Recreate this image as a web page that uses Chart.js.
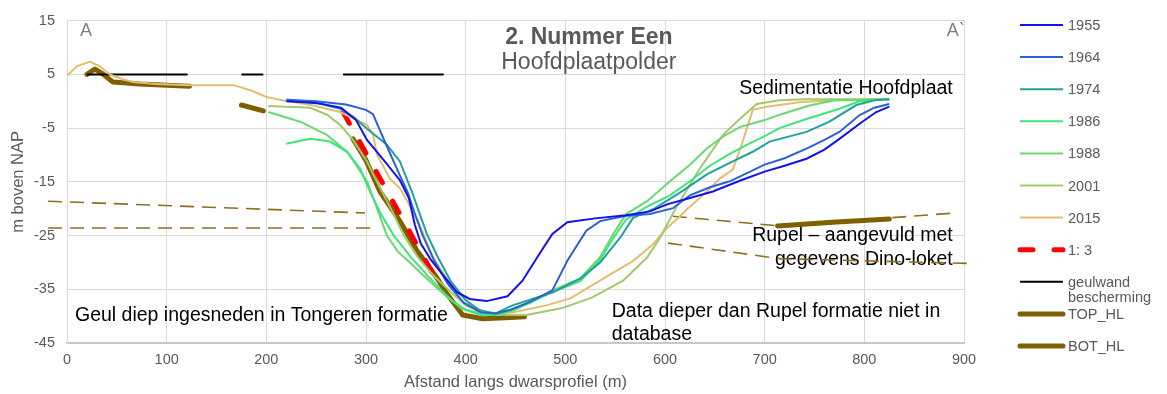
<!DOCTYPE html>
<html>
<head>
<meta charset="utf-8">
<script src="https://cdn.jsdelivr.net/npm/chart.js@4.4.1/dist/chart.umd.min.js"></script>
<style>
  body { margin: 0; background: #fff; }
  #wrap { width: 1167px; height: 394px; }
</style>
</head>
<body>
<div id="wrap"><canvas id="profielChart"></canvas></div>
<script>
// Dwarsprofielen per jaar: [afstand (m), hoogte (m NAP)]
const jaren = ['1955', '1964', '1974', '1986', '1988', '2001', '2015'];
const kleuren = ['#1212EE', '#2A62D4', '#23A0A0', '#3DE57A', '#69D970', '#A3C96A', '#E3BD72'];

const p1955 = [[220,0],[250,-0.3],[275,-1.2],[290,-3.5],[301,-7.2],[318,-11],[334,-14.7],[343,-18],[349,-23],[355,-26.5],[365,-29.5],[378,-32.5],[391,-35.5],[404,-36.8],[421,-37.2],[442,-36.3],[457,-33.4],[472,-29],[487,-24.7],[502,-22.5],[530,-21.8],[561,-21.2],[585,-20.5],[602,-19.2],[625,-18],[648,-16.8],[675,-14.8],[700,-13.1],[720,-12],[742,-10.7],[760,-9],[775,-7],[798,-3.8],[812,-2],[825,-1]];
const p1964 = [[220,0.3],[250,0],[280,-0.6],[300,-1.6],[307,-2.4],[320,-8],[334,-13.8],[342,-17],[350,-21.5],[357,-25],[368,-29.5],[382,-34],[398,-37.5],[415,-39.3],[430,-39.5],[445,-38.8],[465,-37.3],[487,-35.2],[502,-29.7],[521,-24.1],[535,-22.3],[561,-21.3],[585,-21],[608,-19.9],[625,-17.5],[645,-16],[665,-14.9],[700,-11.8],[720,-10.6],[742,-8.8],[760,-7.2],[775,-5.7],[795,-2.6],[810,-1.2],[825,-0.5]];
const p1974 = [[234,0],[255,-0.5],[274,-1.4],[288,-3],[301,-5.1],[321,-8.1],[334,-11.2],[346,-16.8],[353,-20.5],[361,-24.7],[372,-29],[385,-33.5],[400,-37],[414,-38.9],[430,-39.5],[447,-38],[467,-36.8],[487,-35.6],[515,-33],[535,-30],[555,-25.4],[568,-21.7],[588,-20.1],[615,-17],[642,-13.6],[668,-11.2],[688,-9.4],[705,-7.5],[742,-5.7],[765,-3.8],[792,-0.7],[810,0.2],[825,0.4]];
const p1986 = [[220,-7.9],[244,-7],[264,-7.5],[281,-9.4],[294,-12.5],[304,-16.8],[315,-21],[328,-25],[345,-29],[362,-32.5],[380,-36],[395,-38.5],[415,-39.8],[430,-39.8],[447,-39],[467,-37.3],[487,-35.5],[515,-33.5],[535,-29.5],[548,-25.5],[561,-22],[582,-19.6],[605,-17.5],[625,-14.9],[645,-12],[665,-9.8],[682,-8.1],[700,-6.5],[715,-5],[742,-3.3],[775,-1.4],[795,0],[825,0.4]];
const p1988 = [[202,-2],[234,-3.8],[261,-6.3],[281,-9.4],[301,-14.9],[311,-19.9],[321,-25],[332,-28],[344,-30],[358,-32.5],[371,-34.7],[385,-37],[400,-38.8],[420,-39.6],[440,-39.3],[465,-37.5],[487,-35.2],[515,-33],[535,-29],[548,-24.7],[561,-21],[582,-18.6],[605,-14.9],[625,-11.8],[642,-8.8],[658,-6.6],[675,-4.8],[700,-3.5],[715,-2.5],[745,-0.8],[770,0.2],[825,0.4]];
const p2001 = [[202,-0.9],[244,-1.2],[261,-2.5],[274,-4.4],[287,-7.2],[301,-11.2],[311,-15],[325,-20],[338,-25],[352,-29],[368,-32.5],[385,-35.5],[400,-38],[420,-39.5],[440,-39.8],[461,-39.8],[497,-38.5],[527,-36.5],[558,-33.4],[582,-29.1],[595,-25.4],[612,-19.5],[635,-12.5],[658,-6.3],[675,-3.3],[692,-0.5],[715,0.2],[740,0.4],[825,0.4]];
const p2015 = [[0,4.8],[10,6.5],[23,7.4],[33,6.5],[43,5],[56,4.1],[66,3.6],[90,3.2],[123,3],[167,3],[185,2],[200,0.8],[220,0.05],[245,-0.7],[274,-2],[301,-4.4],[307,-6.2],[311,-9.9],[324,-14.4],[334,-16.2],[351,-21.7],[367,-29],[387,-34.7],[407,-38.3],[424,-39.5],[447,-39.3],[481,-38],[505,-36.7],[538,-33],[568,-29.7],[588,-26.6],[602,-23.6],[615,-21.4],[622,-20.1],[642,-16.8],[655,-14.4],[668,-12.7],[678,-7.5],[688,-1.6],[702,-1],[735,-0.2],[768,0.2],[825,0.3]];
const profielen = [p1955, p1964, p1974, p1986, p1988, p2001, p2015];

// Hulplijnen
const helling13 = [[277,-2],[371,-33.4]];
const geulwand = [[20,5],[121,5],[148,null],[175,5],[197,5],[237,null],[277,5],[378,5]];
const topHL = [[20,5],[28,6],[35,5.2],[46,3.6],[73,3.2],[100,3],[123,2.8],[150,null],[175,-0.7],[197,-1.8]];
const botHL = [[287,-7],[300,-11],[314,-16.8],[334,-22.3],[351,-27.8],[371,-32.8],[381,-35.8],[397,-39.8],[417,-40.5],[440,-40.3],[459,-40.1],[600,null],[713,-23.2],[768,-22.5],[825,-21.9]];
const rupelLijnen = [
  [[-19,-18.6],[299,-20.8]],
  [[-19,-23.6],[307,-23.6]],
  [[608,-21.4],[715,-23.2],[891,-20.8]],
  [[603,-26.4],[715,-29.3],[906,-30.2]]
];

const xTicks = [0, 100, 200, 300, 400, 500, 600, 700, 800, 900];
const yTicks = [-45, -35, -25, -15, -5, 5, 15];

const FONT = "'Liberation Sans', Arial, sans-serif";
const GRIJS = '#595959';

const naarPunten = arr => arr.map(p => ({x: p[0], y: p[1]}));

const datasets = [];
jaren.forEach((jaar, i) => {
    datasets.push({
        label: jaar,
        data: naarPunten(profielen[i]),
        borderColor: kleuren[i],
        borderWidth: 2
    });
});
datasets.push({
    label: '1: 3',
    data: naarPunten(helling13),
    borderColor: '#FF0000',
    borderWidth: 5,
    borderDash: [13, 21],
    borderCapStyle: 'round'
});
datasets.push({
    label: ['geulwand', 'bescherming'],
    data: naarPunten(geulwand),
    borderColor: '#000000',
    borderWidth: 2
});
datasets.push({
    label: 'TOP_HL',
    data: naarPunten(topHL),
    borderColor: '#7F6000',
    borderWidth: 5,
    borderCapStyle: 'round',
    borderJoinStyle: 'round'
});
datasets.push({
    label: 'BOT_HL',
    data: naarPunten(botHL),
    borderColor: '#7F6000',
    borderWidth: 5,
    borderCapStyle: 'round',
    borderJoinStyle: 'round'
});
rupelLijnen.forEach(l => {
    datasets.push({
        label: '',
        geenLegenda: true,
        data: naarPunten(l),
        borderColor: '#8F6E1E',
        borderWidth: 1.6,
        borderDash: [14, 8],
        clip: false
    });
});

// Teksten in de grafiek (positie in data-coordinaten)
const teksten = [
    {text: 'A', x: 13, y: 12.2, align: 'left', font: '18px ' + FONT, color: '#7F7F7F'},
    {text: 'A`', x: 882.6, y: 12.2, align: 'left', font: '18px ' + FONT, color: '#7F7F7F'},
    {text: '2. Nummer Een', x: 523.6, y: 10.57, align: 'center', font: 'bold 23px ' + FONT, color: GRIJS},
    {text: 'Hoofdplaatpolder', x: 523.6, y: 5.95, align: 'center', font: '23px ' + FONT, color: GRIJS},
    {text: 'Sedimentatie Hoofdplaat', x: 888.7, y: 1.34, align: 'right', font: '19.5px ' + FONT, color: '#000'},
    {text: 'Rupel \u2013 aangevuld met', x: 888.7, y: -25.98, align: 'right', font: '19.5px ' + FONT, color: '#000'},
    {text: 'gegevens Dino-loket', x: 888.7, y: -30.41, align: 'right', font: '19.5px ' + FONT, color: '#000'},
    {text: 'Geul diep ingesneden in Tongeren formatie', x: 8, y: -40.93, align: 'left', font: '19.5px ' + FONT, color: '#000'},
    {text: 'Data dieper dan Rupel formatie niet in', x: 546.6, y: -40.2, align: 'left', font: '19.5px ' + FONT, color: '#000'},
    {text: 'database', x: 546.6, y: -44.44, align: 'left', font: '19.5px ' + FONT, color: '#000'}
];

const tekstPlugin = {
    id: 'teksten',
    beforeDatasetsDraw(chart) {
        const {ctx, scales: {x, y}} = chart;
        ctx.save();
        ctx.textBaseline = 'alphabetic';
        teksten.forEach(t => {
            ctx.font = t.font;
            ctx.fillStyle = t.color;
            ctx.textAlign = t.align;
            ctx.fillText(t.text, x.getPixelForValue(t.x), y.getPixelForValue(t.y));
        });
        ctx.restore();
    }
};

// Eigen legenda rechts
const legendaPlugin = {
    id: 'legenda',
    afterDraw(chart) {
        const ctx = chart.ctx;
        const x0 = 1020, x1 = 1063, tx = 1068;
        let yy = 25;
        ctx.save();
        ctx.font = '14.5px ' + FONT;
        ctx.fillStyle = GRIJS;
        ctx.textAlign = 'left';
        ctx.textBaseline = 'middle';
        chart.data.datasets.forEach(ds => {
            if (ds.geenLegenda) return;
            ctx.save();
            ctx.strokeStyle = ds.borderColor;
            ctx.lineWidth = ds.borderWidth;
            ctx.lineCap = ds.borderCapStyle || 'butt';
            ctx.setLineDash(ds.borderDash || []);
            ctx.beginPath();
            ctx.moveTo(x0, yy);
            ctx.lineTo(x1, yy);
            ctx.stroke();
            ctx.restore();
            const regels = Array.isArray(ds.label) ? ds.label : [ds.label];
            regels.forEach((r, k) => ctx.fillText(r, tx, yy + 1 + k * 15));
            yy += 32.1;
        });
        ctx.restore();
    }
};

const ctx = document.getElementById('profielChart').getContext('2d');
const profielChart = new Chart(ctx, {
    type: 'scatter',
    data: { datasets: datasets },
    options: {
        responsive: true,
        maintainAspectRatio: false,
        animation: false,
        showLine: true,
        spanGaps: false,
        elements: { point: { radius: 0, hoverRadius: 0 }, line: { tension: 0 } },
        layout: { padding: { top: 18, right: 203, left: 0, bottom: 0 } },
        plugins: {
            legend: { display: false },
            tooltip: { enabled: false }
        },
        scales: {
            x: {
                type: 'linear',
                min: 0,
                max: 900,
                afterBuildTicks: s => { s.ticks = xTicks.map(v => ({value: v})); },
                afterFit: s => { s.height = 51; },
                ticks: { color: GRIJS, font: { family: FONT, size: 14.5 }, padding: 8 },
                grid: { color: '#D9D9D9', drawTicks: false },
                border: { color: '#C8C8C8', width: 2 },
                title: {
                    display: true,
                    text: 'Afstand langs dwarsprofiel (m)',
                    color: GRIJS,
                    font: { family: FONT, size: 16.5 },
                    padding: { top: 0, bottom: 2 }
                }
            },
            y: {
                type: 'linear',
                min: -45,
                max: 15,
                afterBuildTicks: s => { s.ticks = yTicks.map(v => ({value: v})); },
                afterFit: s => { s.width = 67; },
                ticks: { color: GRIJS, font: { family: FONT, size: 14.5 }, padding: 12 },
                grid: { color: '#D9D9D9', drawTicks: false },
                border: { color: '#D9D9D9' },
                title: {
                    display: true,
                    text: 'm boven NAP',
                    color: GRIJS,
                    font: { family: FONT, size: 16.5 },
                    padding: { top: 9, bottom: 0 }
                }
            }
        }
    },
    plugins: [tekstPlugin, legendaPlugin]
});
</script>
</body>
</html>
